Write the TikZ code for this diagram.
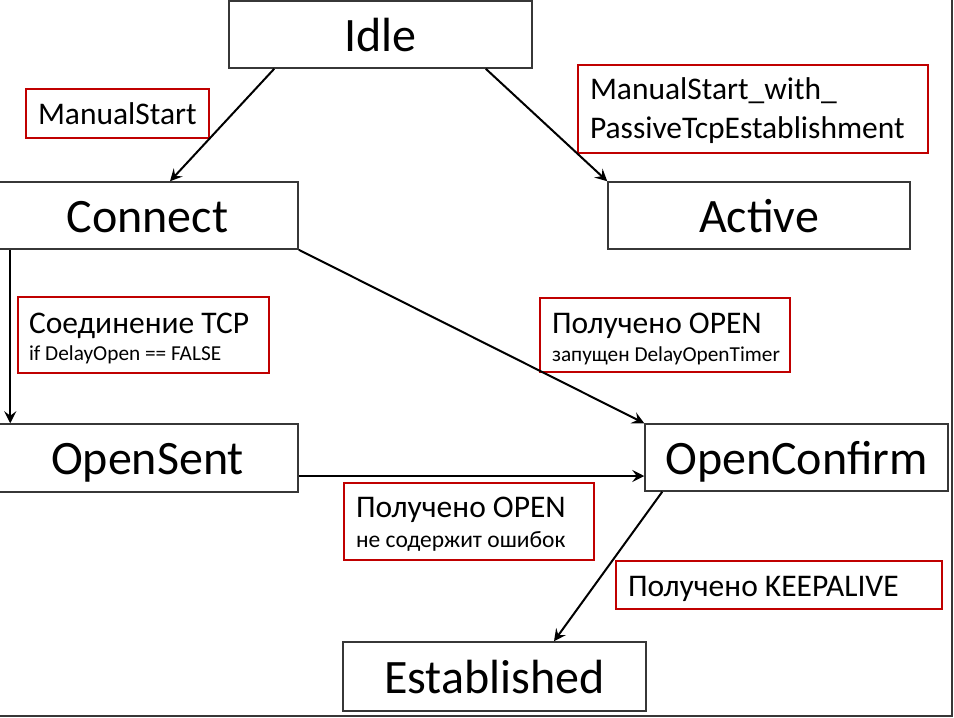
\documentclass[tikz,border=0pt]{standalone}
\usepackage{fontspec}
\setmainfont{Carlito}
\usetikzlibrary{arrows.meta,calc}
\definecolor{labred}{RGB}{192,0,0}
\definecolor{boxgray}{RGB}{55,55,55}
\tikzset{
  statebox/.style={draw=boxgray, line width=1.5pt, fill=white, inner sep=0pt,
    text height=33pt, text depth=0pt, font=\fontsize{48}{56}\selectfont},
  labbox/.style={draw=labred, line width=2pt, anchor=north west, align=left,
    inner ysep=0pt},
  big/.style={font=\fontsize{31.5}{36}\selectfont},
  conn/.style={line width=2pt, -{Stealth[length=12pt,width=12pt,inset=4.5pt]}},
}
\newcommand{\Lbig}[1]{{\fontsize{31.5}{36}\selectfont\mbox{#1}}}
\newcommand{\natsp}{\spaceskip=0pt\xspaceskip=0pt\relax}
\begin{document}
\begin{tikzpicture}[x=1pt,y=-1pt]
\useasboundingbox (0,0) rectangle (954,718);

% states
\node[statebox, minimum width=303pt, minimum height=67pt] (idle) at (380.5,34.5) {Idle};
\node[statebox, minimum width=301pt, minimum height=67pt] (connect) at (147.5,215.5) {Connect};
\node[statebox, minimum width=302pt, minimum height=67pt] (active) at (759,215.5) {Active};
\node[statebox, minimum width=301pt, minimum height=68pt] (opensent) at (147.5,458) {OpenSent};
\node[statebox, minimum width=303pt, minimum height=67pt] (openconfirm) at (796.5,457.5) {OpenConfirm};
\node[statebox, minimum width=303pt, minimum height=69pt] (established) at (494.5,676.5) {Established};

% labels
\node[labbox, big, inner xsep=12pt, text width=159pt, text height=35pt, text depth=14pt]
  (l1) at (25,88) {\natsp\mbox{ManualStart}};
\node[labbox, inner xsep=12pt, text width=326pt, text height=34pt, text depth=54pt,
  font=\fontsize{31.5}{39}\selectfont]
  (l2) at (577,64) {\natsp\mbox{ManualStart\_with\_}\\\mbox{PassiveTcpEstablishment}};
\node[labbox, inner xsep=11pt, text width=229pt, text height=36pt, text depth=40pt,
  font=\fontsize{21.3}{27}\selectfont]
  (l3) at (17,296) {\natsp\Lbig{Соединение TCP}\\\mbox{if DelayOpen == FALSE}};
\node[labbox, inner xsep=12pt, text width=226pt, text height=35pt, text depth=39pt,
  font=\fontsize{21.3}{28}\selectfont]
  (l4) at (539,297) {\natsp\Lbig{Получено OPEN}\\\mbox{запущен DelayOpenTimer}};
\node[labbox, inner xsep=12pt, text width=226pt, text height=34pt, text depth=43pt,
  font=\fontsize{23.5}{30}\selectfont]
  (l5) at (343,482) {\natsp\Lbig{Получено OPEN}\\\mbox{не содержит ошибок}};
\node[labbox, big, inner xsep=12pt, text width=302pt, text height=35pt, text depth=13pt]
  (l6) at (615,560) {\natsp\mbox{Получено KEEPALIVE}};

% connectors
\draw[conn] ($(idle.south west)+(46,0)$) -- ($(connect.north)+(22.5,0)$);
\draw[conn] ($(idle.south east)+(-47,0)$) -- (active.north west);
\draw[conn] ($(connect.south west)+(14,0)$) -- ($(opensent.north west)+(14,0)$);
\draw[conn] (connect.south east) -- (openconfirm.north west);
\draw[conn] ($(opensent.east)+(0,18)$) -- ($(openconfirm.west)+(0,18.5)$);
\draw[conn] ($(openconfirm.south west)+(18,0)$) -- ($(established.north)+(59.5,0)$);

% frame
\draw[boxgray, line width=2.5pt] (952,-2) -- (952,716) -- (-2,716);
\end{tikzpicture}
\end{document}
